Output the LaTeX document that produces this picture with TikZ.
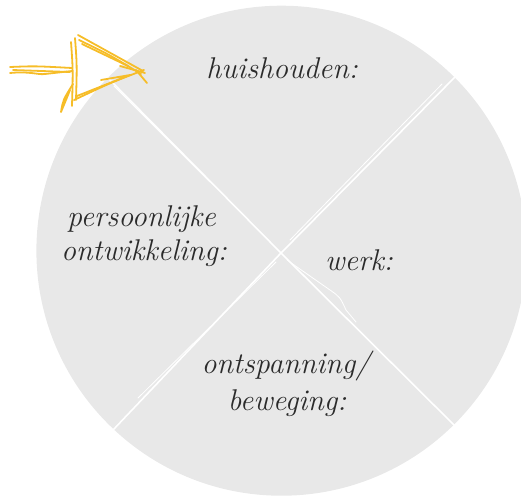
\documentclass[tikz,border=0pt]{standalone}
\usepackage{fontspec}
\begin{document}
\begin{tikzpicture}[x=1pt,y=-1pt,
  disc/.style={fill=discgray,draw=none},
  cut/.style={draw=white,line width=1.6pt,line cap=round},
  cutthin/.style={draw=white,line width=0.8pt,line cap=round},
  scrib/.style={draw=arrowyellow,line width=1.8pt,line cap=round,line join=round},
  label/.style={anchor=base,inner sep=0pt,text=inkgray,font=\fontsize{30}{34}\selectfont\itshape}]
\definecolor{discgray}{HTML}{E8E8E8}
\definecolor{arrowyellow}{HTML}{F6BD28}
\definecolor{inkgray}{HTML}{2B2B2B}
\useasboundingbox (0,0) rectangle (521,496);
\clip (0,0) rectangle (521,496);
% disc
\coordinate (c) at (281.4,250.7);
\fill[disc] (c) circle (245);
% dividing lines
\coordinate (x) at (281,253);
\coordinate (ul) at (108,78);
\coordinate (lr) at (456,427);
\coordinate (ur) at (455,77);
\coordinate (ll) at (113,430);
\draw[cut] (ul) -- (x) -- (lr);
\draw[cut] (ur) -- (x) -- (ll);
\draw[cutthin] (114,86) -- (210,182);
\draw[cutthin] (442,84) -- (290,240);
\draw[cutthin] (276,262) -- (138,398);
\draw[cutthin] (287,260) -- (330,290) .. controls (340,297) .. (346,310) -- (356,322);
% texts
\node[label] (hh) at (282,78) {huishouden:};
\node[label] (pd1) at (141.5,226) {persoonlijke};
\node[label] (pd2) at (144,260) {ontwikkeling:};
\node[label] (wk) at (359,270) {werk:};
\node[label] (ob1) at (286,373) {ontspanning/};
\node[label] (ob2) at (287,410) {beweging:};
% yellow scribbled arrow
\draw[scrib] (10,67) .. controls (35,66) .. (72,68);
\draw[scrib] (10,73) .. controls (30,71) and (38,75) .. (45,74) -- (72,71);
\draw[scrib] (13,70) -- (70,72);
\draw[scrib] (71,42) .. controls (73,70) .. (72,106);
\draw[scrib] (75,38) .. controls (77,65) .. (76,100);
\draw[scrib] (78,35) -- (143,71);
\draw[scrib] (79,40) .. controls (110,55) .. (141,74);
\draw[scrib] (82,44) -- (128,66);
\draw[scrib] (74,100) .. controls (110,83) .. (144,70);
\draw[scrib] (77,96) -- (130,75) -- (101,80);
\draw[scrib] (73,84) .. controls (63,100) .. (61,112) .. controls (66,100) .. (70,90);
\draw[scrib] (136,70) -- (147,83);
\draw[scrib] (120,66) -- (145,73);
\end{tikzpicture}
\end{document}
